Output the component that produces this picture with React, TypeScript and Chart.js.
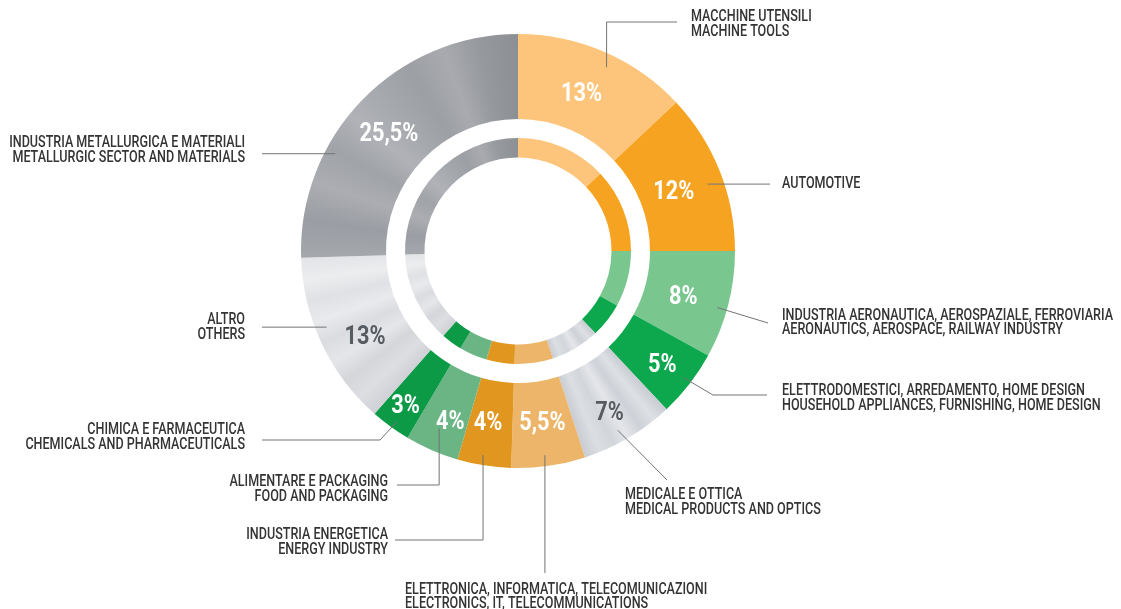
import React, { useEffect, useRef } from "react";
import { Chart, registerables } from "chart.js";

Chart.register(...registerables);

// ---------- data ----------
const categoriesIt = [
  "MACCHINE UTENSILI",
  "AUTOMOTIVE",
  "INDUSTRIA AERONAUTICA, AEROSPAZIALE, FERROVIARIA",
  "ELETTRODOMESTICI, ARREDAMENTO, HOME DESIGN",
  "MEDICALE E OTTICA",
  "ELETTRONICA, INFORMATICA, TELECOMUNICAZIONI",
  "INDUSTRIA ENERGETICA",
  "ALIMENTARE E PACKAGING",
  "CHIMICA E FARMACEUTICA",
  "ALTRO",
  "INDUSTRIA METALLURGICA E MATERIALI",
];
const categoriesEn = [
  "MACHINE TOOLS",
  "",
  "AERONAUTICS, AEROSPACE, RAILWAY INDUSTRY",
  "HOUSEHOLD APPLIANCES, FURNISHING, HOME DESIGN",
  "MEDICAL PRODUCTS AND OPTICS",
  "ELECTRONICS, IT, TELECOMMUNICATIONS",
  "ENERGY INDUSTRY",
  "FOOD AND PACKAGING",
  "CHEMICALS AND PHARMACEUTICALS",
  "OTHERS",
  "METALLURGIC SECTOR AND MATERIALS",
];
const shares = [13, 12, 8, 5, 7, 5.5, 4, 4, 3, 13, 25.5];

// ---------- styles ----------
const sliceColors = [
  "#FDC57B",
  "#F7A322",
  "#79C78F",
  "#0DA84D",
  "metalMid",
  "#ECB56A",
  "#E1961F",
  "#6BB584",
  "#0C9A47",
  "metalLight",
  "metalDark",
];
const metalStops: Record<string, string[]> = {
  metalDark: ["#A4A7AC", "#9A9DA3", "#ABADB2", "#A0A3A8", "#B0B2B7", "#A5A8AD", "#9C9FA4", "#A8AAAF", "#95989D", "#8C8F94"],
  metalLight: ["#CFD1D6", "#DCDEE2", "#D4D6DA", "#E4E6E9", "#DADCE0", "#E9EAED", "#DFE1E4", "#ECEDEF", "#E3E4E7"],
  metalMid: ["#C8CCD2", "#DDE0E4", "#CED1D7", "#E4E6EA", "#D2D5DA", "#DBDEE2", "#C9CDD3"],
};
const pctColors = ["#fff", "#fff", "#fff", "#fff", "#575B62", "#fff", "#fff", "#fff", "#fff", "#575B62", "#fff"];
// percent label placement inside its slice: t = fraction along slice, dr = radial offset from ring middle
const pctPos = [
  { t: 0.47, dr: -5 },
  { t: 0.52, dr: -8 },
  { t: 0.54, dr: -3 },
  { t: 0.52, dr: 9 },
  { t: 0.54, dr: 11 },
  { t: 0.5, dr: -1 },
  { t: 0.56, dr: 0 },
  { t: 0.38, dr: 9 },
  { t: 0.5, dr: 17 },
  { t: 0.41, dr: 1 },
  { t: 0.48, dr: 0 },
];
type Step = { v?: number; h?: number; to?: [number, number] };
const leaders: { t: number; dr: number; path: Step[]; tx: number; align: "left" | "right"; ty: number[] }[] = [
  { t: 0.55, dr: -13, path: [{ v: 22 }, { h: 677 }], tx: 691, align: "left", ty: [17, 32] },
  { t: 0.55, dr: -16, path: [{ h: 770 }], tx: 782, align: "left", ty: [184] },
  { t: 0.55, dr: -10, path: [{ to: [768, 323] }], tx: 782, align: "left", ty: [316, 330] },
  { t: 0.48, dr: -9, path: [{ to: [713, 395] }, { h: 767 }], tx: 782, align: "left", ty: [391, 406] },
  { t: 0.56, dr: -12, path: [{ to: [667, 480] }], tx: 625, align: "left", ty: [495, 510] },
  { t: 0.53, dr: -11, path: [{ v: 573 }], tx: 405, align: "left", ty: [590, 604] },
  { t: 0.55, dr: -10, path: [{ v: 540 }, { h: 395 }], tx: 388, align: "right", ty: [535, 550] },
  { t: 0.54, dr: -23, path: [{ v: 485 }, { h: 397 }], tx: 388, align: "right", ty: [482, 497] },
  { t: 0.44, dr: -8, path: [{ to: [380, 440] }, { h: 262 }], tx: 245, align: "right", ty: [430, 445] },
  { t: 0.575, dr: -11, path: [{ h: 262 }], tx: 245, align: "right", ty: [320, 335] },
  { t: 0.325, dr: -10, path: [{ h: 262 }], tx: 245, align: "right", ty: [143, 158] },
];

const total = shares.reduce((a, b) => a + b, 0);
const cumStart = shares.map((_, i) => shares.slice(0, i).reduce((a, b) => a + b, 0) / total);

function sliceFill(ctx: any) {
  const key = sliceColors[ctx.dataIndex];
  const stops = metalStops[key];
  if (!stops) return key;
  const chart = ctx.chart;
  const area = chart.chartArea;
  if (!area) return stops[0];
  const cx = (area.left + area.right) / 2;
  const cy = (area.top + area.bottom) / 2;
  const g = chart.ctx.createConicGradient(-Math.PI / 2, cx, cy);
  const f0 = cumStart[ctx.dataIndex];
  const f1 = f0 + shares[ctx.dataIndex] / total;
  stops.forEach((c, k) => g.addColorStop(f0 + ((f1 - f0) * k) / (stops.length - 1), c));
  return g;
}

function fmtPct(v: number) {
  return String(v).replace(".", ",") + "%";
}

const labelPlugin = {
  id: "sectorLabels",
  afterDatasetsDraw(chart: any) {
    const meta = chart.getDatasetMeta(0);
    const ctx = chart.ctx as CanvasRenderingContext2D;
    ctx.save();
    meta.data.forEach((arc: any, i: number) => {
      const p = arc.getProps(["x", "y", "startAngle", "endAngle", "innerRadius", "outerRadius"], true);
      // percentage
      const pa = p.startAngle + (p.endAngle - p.startAngle) * pctPos[i].t;
      const pr = (p.innerRadius + p.outerRadius) / 2 + pctPos[i].dr;
      ctx.font = "bold 25px Roboto";
      ctx.fillStyle = pctColors[i];
      ctx.textAlign = "center";
      ctx.textBaseline = "middle";
      const txt = fmtPct(shares[i]);
      ctx.fillText(txt, p.x + pr * Math.cos(pa), p.y + pr * Math.sin(pa) + 1, ctx.measureText(txt).width * 0.87);

      // leader line
      const L = leaders[i];
      const la = p.startAngle + (p.endAngle - p.startAngle) * L.t;
      const lr = p.outerRadius + L.dr;
      let cx = p.x + lr * Math.cos(la);
      let cy = p.y + lr * Math.sin(la);
      ctx.beginPath();
      ctx.strokeStyle = "#747474";
      ctx.lineWidth = 1;
      ctx.moveTo(cx, cy);
      L.path.forEach((s) => {
        if (s.v !== undefined) cy = s.v;
        else if (s.h !== undefined) cx = s.h;
        else if (s.to) {
          cx = s.to[0];
          cy = s.to[1];
        }
        ctx.lineTo(cx, cy);
      });
      ctx.stroke();

      // category text
      ctx.font = "500 16px Roboto";
      ctx.fillStyle = "#343434";
      ctx.textAlign = L.align;
      ctx.textBaseline = "middle";
      const lines = [categoriesIt[i], categoriesEn[i]].filter((s) => s);
      lines.forEach((s, k) => {
        ctx.fillText(s, L.tx, L.ty[k], ctx.measureText(s).width * 0.785);
      });
    });
    ctx.restore();
  },
};

export default function App() {
  const ref = useRef<HTMLCanvasElement>(null);
  useEffect(() => {
    if (!ref.current) return;
    const chart = new Chart(ref.current, {
      type: "doughnut",
      data: {
        labels: categoriesIt,
        datasets: [
          { data: shares, backgroundColor: sliceFill as any, borderWidth: 0, weight: 85 },
          { data: [1], backgroundColor: "rgba(0,0,0,0)", borderWidth: 0, weight: 19 },
          { data: shares, backgroundColor: sliceFill as any, borderWidth: 0, weight: 19.5 },
        ],
      },
      options: {
        responsive: false,
        animation: false,
        events: [],
        cutout: 93.5,
        layout: { padding: { left: 301, top: 34, right: 386, bottom: 141 } },
        plugins: { legend: { display: false }, tooltip: { enabled: false } },
      },
      plugins: [labelPlugin],
    });
    return () => chart.destroy();
  }, []);
  return (
    <div style={{ position: "fixed", left: 0, top: 0, width: 1121, height: 609, background: "#fff" }}>
      <canvas ref={ref} width={1121} height={609} style={{ display: "block" }} />
    </div>
  );
}
